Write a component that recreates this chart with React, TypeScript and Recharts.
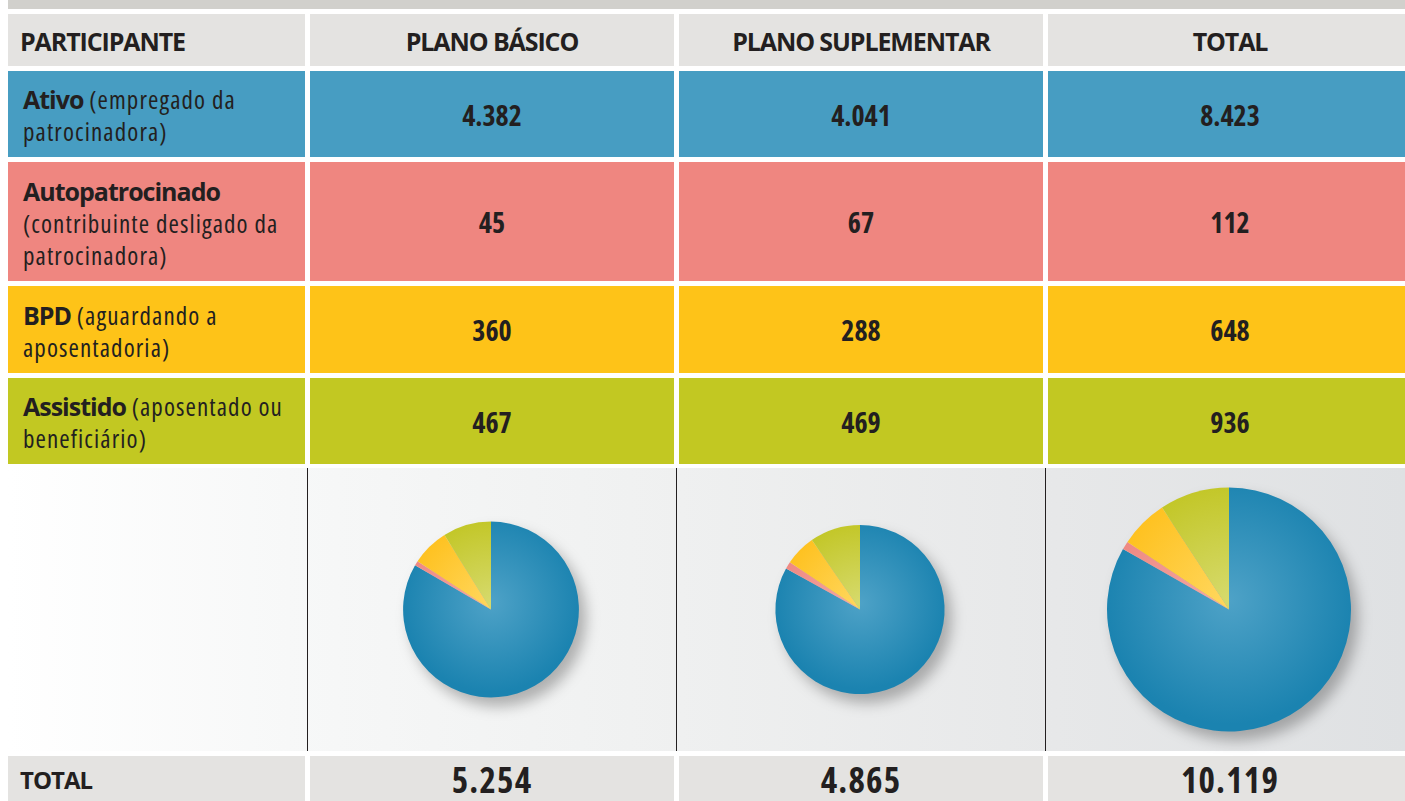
import React from 'react';
import { PieChart, Pie, Cell } from 'recharts';

// ---------- data ----------
const columnHeaders = ['PARTICIPANTE', 'PLANO BÁSICO', 'PLANO SUPLEMENTAR', 'TOTAL'];
const categories = ['Ativo', 'Autopatrocinado', 'BPD', 'Assistido'];
const categoryNotes = [
  ['(empregado da', 'patrocinadora)'],
  ['', '(contribuinte desligado da', 'patrocinadora)'],
  ['(aguardando a', 'aposentadoria)'],
  ['(aposentado ou', 'beneficiário)'],
];
const planoBasico = [4382, 45, 360, 467];
const planoSuplementar = [4041, 67, 288, 469];
const totalGeral = [8423, 112, 648, 936];
const totalLabel = 'TOTAL';
const columnTotals = [5254, 4865, 10119];

// ---------- style ----------
const FONT = "'Open Sans', 'DejaVu Sans', sans-serif";
const TEXT = '#231f20';
const rowColors = ['#479dc2', '#ef8680', '#fec318', '#c2c822'];
const sliceOuter = ['#1b83b0', '#ee8781', '#fec01c', '#c1c522'];
const sliceInner = ['#4ea2c7', '#f4aaa5', '#ffd75e', '#d6da6c'];
const headerGray = '#e4e3e1';

const colX = [8, 310, 679, 1048];
const colW = [297, 364, 364, 364];
const headerTop = 14;
const headerH = 52;
const rowTops = [71, 162, 286, 378];
const rowHs = [86, 119, 87, 86];
const pieTop = 468;
const pieH = 283;
const totalTop = 756;
const totalH = 45;

const fmt = (n: number) => {
  const s = String(Math.round(n));
  return s.replace(/\B(?=(\d{3})+(?!\d))/g, '.');
};

const series = [planoBasico, planoSuplementar, totalGeral];

const cell = (left: number, top: number, width: number, height: number, bg: string, children: React.ReactNode, align: 'left' | 'center', pad = 0, extra: React.CSSProperties = {}) => (
  <div
    style={{
      position: 'absolute',
      left,
      top,
      width,
      height,
      background: bg,
      display: 'flex',
      alignItems: 'center',
      justifyContent: align === 'left' ? 'flex-start' : 'center',
      paddingLeft: pad,
      boxSizing: 'border-box',
      color: TEXT,
      ...extra,
    }}
  >
    {children}
  </div>
);

const SEMI = '90%';
const COND = '75%';

export default function App() {
  const maxTotal = Math.max(...columnTotals);
  const maxR = 122;
  const pieCy = pieH / 2;
  const pies = columnTotals.map((t, i) => ({
    cx: colX[i + 1] + colW[i + 1] / 2 - 1,
    cy: pieCy,
    r: maxR * Math.sqrt(t / maxTotal),
    data: categories.map((c, k) => ({ name: c, value: series[i][k] })),
  }));

  return (
    <div
      style={{
        position: 'absolute',
        left: 0,
        top: 0,
        width: 1405,
        height: 801,
        overflow: 'hidden',
        background: '#ffffff',
        fontFamily: FONT,
      }}
    >
      {/* top band */}
      <div style={{ position: 'absolute', left: 8, top: 0, width: 1397, height: 9, background: '#d1d0cc' }} />

      {/* header row */}
      {columnHeaders.map((h, i) =>
        cell(colX[i], headerTop, colW[i], headerH, headerGray,
          <span style={{ fontWeight: 700, fontSize: 25, fontStretch: SEMI, letterSpacing: '-1.1px', whiteSpace: 'nowrap', lineHeight: 1 }}>{h}</span>,
          i === 0 ? 'left' : 'center', i === 0 ? 12 : 0, { paddingTop: 3 })
      )}

      {/* data rows */}
      {categories.map((c, r) => (
        <React.Fragment key={c}>
          {cell(colX[0], rowTops[r], colW[0], rowHs[r], rowColors[r],
            <div style={{ fontSize: 25, fontStretch: COND, letterSpacing: '1.1px', lineHeight: '32px', whiteSpace: 'nowrap', paddingTop: 2 }}>
              {categoryNotes[r].map((line, li) => (
                <div key={li}>
                  {li === 0 ? (
                    <>
                      <span style={{ fontWeight: 700, fontStretch: SEMI, letterSpacing: '-1px' }}>{c}</span>
                      {line ? ' ' + line : ''}
                    </>
                  ) : line}
                </div>
              ))}
            </div>, 'left', 15)}
          {series.map((s, j) =>
            <React.Fragment key={j}>
              {cell(colX[j + 1], rowTops[r], colW[j + 1], rowHs[r], rowColors[r],
                <span style={{ fontWeight: 700, fontSize: 28, fontStretch: COND, lineHeight: 1 }}>{fmt(s[r])}</span>, 'center', 0, { paddingTop: 1 })}
            </React.Fragment>
          )}
        </React.Fragment>
      ))}

      {/* pie area background */}
      <div
        style={{
          position: 'absolute',
          left: 8,
          top: pieTop,
          width: 1397,
          height: pieH,
          background: 'linear-gradient(to right, #ffffff 0%, #f7f8f8 20%, #eff0f0 48%, #e7e8e9 75%, #dfe1e3 100%)',
        }}
      />
      {[1, 2, 3].map((i) => (
        <div key={i} style={{ position: 'absolute', left: colX[i] - 3, top: pieTop, width: 1, height: pieH, background: TEXT }} />
      ))}

      <div style={{ position: 'absolute', left: 0, top: pieTop, filter: 'drop-shadow(7px 9px 7px rgba(0,0,0,0.28))' }}>
        <PieChart width={1405} height={pieH} margin={{ top: 0, right: 0, bottom: 0, left: 0 }}>
          <defs>
            {pies.map((p, i) =>
              sliceOuter.map((col, k) => (
                <radialGradient
                  key={`${i}-${k}`}
                  id={`grad-${i}-${k}`}
                  gradientUnits="userSpaceOnUse"
                  cx={p.cx}
                  cy={p.cy - p.r * 0.08}
                  r={p.r * 1.02}
                >
                  <stop offset="0%" stopColor={sliceInner[k]} />
                  <stop offset="100%" stopColor={col} />
                </radialGradient>
              ))
            )}
          </defs>
          {pies.map((p, i) => (
            <Pie
              key={i}
              data={p.data}
              dataKey="value"
              nameKey="name"
              cx={p.cx}
              cy={p.cy}
              innerRadius={0}
              outerRadius={p.r}
              startAngle={90}
              endAngle={-270}
              stroke="none"
              isAnimationActive={false}
              label={false}
              labelLine={false}
            >
              {p.data.map((d, k) => (
                <Cell key={d.name} fill={`url(#grad-${i}-${k})`} stroke="none" />
              ))}
            </Pie>
          ))}
        </PieChart>
      </div>

      {/* total row */}
      {cell(colX[0], totalTop, colW[0], totalH, headerGray,
        <span style={{ fontWeight: 700, fontSize: 24, fontStretch: SEMI, letterSpacing: '-1px', lineHeight: 1 }}>{totalLabel}</span>, 'left', 12, { paddingTop: 2 })}
      {columnTotals.map((t, j) => (
        <React.Fragment key={j}>
          {cell(colX[j + 1], totalTop, colW[j + 1], totalH, headerGray,
            <span style={{ fontWeight: 700, fontSize: 35, fontStretch: COND, letterSpacing: '1.2px', lineHeight: 1 }}>{fmt(t)}</span>, 'center', 0, { paddingTop: 1 })}
        </React.Fragment>
      ))}
    </div>
  );
}
